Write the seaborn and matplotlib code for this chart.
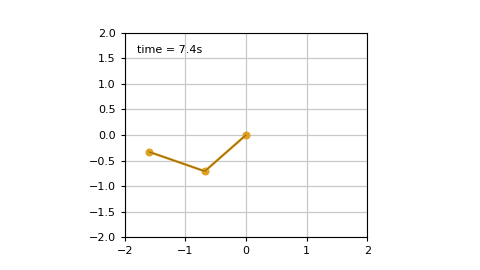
import matplotlib
matplotlib.use("Agg")
import matplotlib.pyplot as plt
import seaborn as sns
import pandas as pd

# pendulum positions (pivot, bob1, bob2)
x_pos = [0.0, -0.68, -1.60]
y_pos = [0.0, -0.71, -0.33]
time_label = "time = 7.4s"
ticks = [-2, -1, 0, 1, 2]
yticks = [-2.0, -1.5, -1.0, -0.5, 0.0, 0.5, 1.0, 1.5, 2.0]

sns.set_style("white")
plt.rcParams['font.family'] = ['DejaVu Sans']

fig = plt.figure(figsize=(4.8, 2.7), dpi=100)
ax = fig.add_axes([0.26, 0.122, 0.505, 0.756])

df = pd.DataFrame({"x": x_pos, "y": y_pos})
sns.lineplot(data=df, x="x", y="y", sort=False, ax=ax, color="#e0a020", lw=1.8,
             marker="o", markersize=5, markeredgecolor="#e0a020", zorder=3)
sns.lineplot(data=df, x="x", y="y", sort=False, ax=ax, color="#8a6410", lw=0.7, zorder=4)

ax.set_xlim(-2, 2)
ax.set_ylim(-2, 2)
ax.set_xticks(ticks)
ax.set_yticks(yticks)
ax.set_xticklabels([f"\u2212{abs(t)}" if t < 0 else str(t) for t in ticks])
ax.set_yticklabels([f"\u2212{abs(t):.1f}" if t < 0 else f"{t:.1f}" for t in yticks])
ax.tick_params(labelsize=8, length=3, width=0.8, direction="out", colors="black",
               left=True, bottom=True)
ax.grid(True, color="#c8c8c8", lw=0.9)
ax.set_xlabel("")
ax.set_ylabel("")
for s in ax.spines.values():
    s.set_color("black")
    s.set_linewidth(0.8)
ax.text(0.05, 0.9, time_label, transform=ax.transAxes, fontsize=8, color="black")

fig.savefig("out.png", dpi=100)
